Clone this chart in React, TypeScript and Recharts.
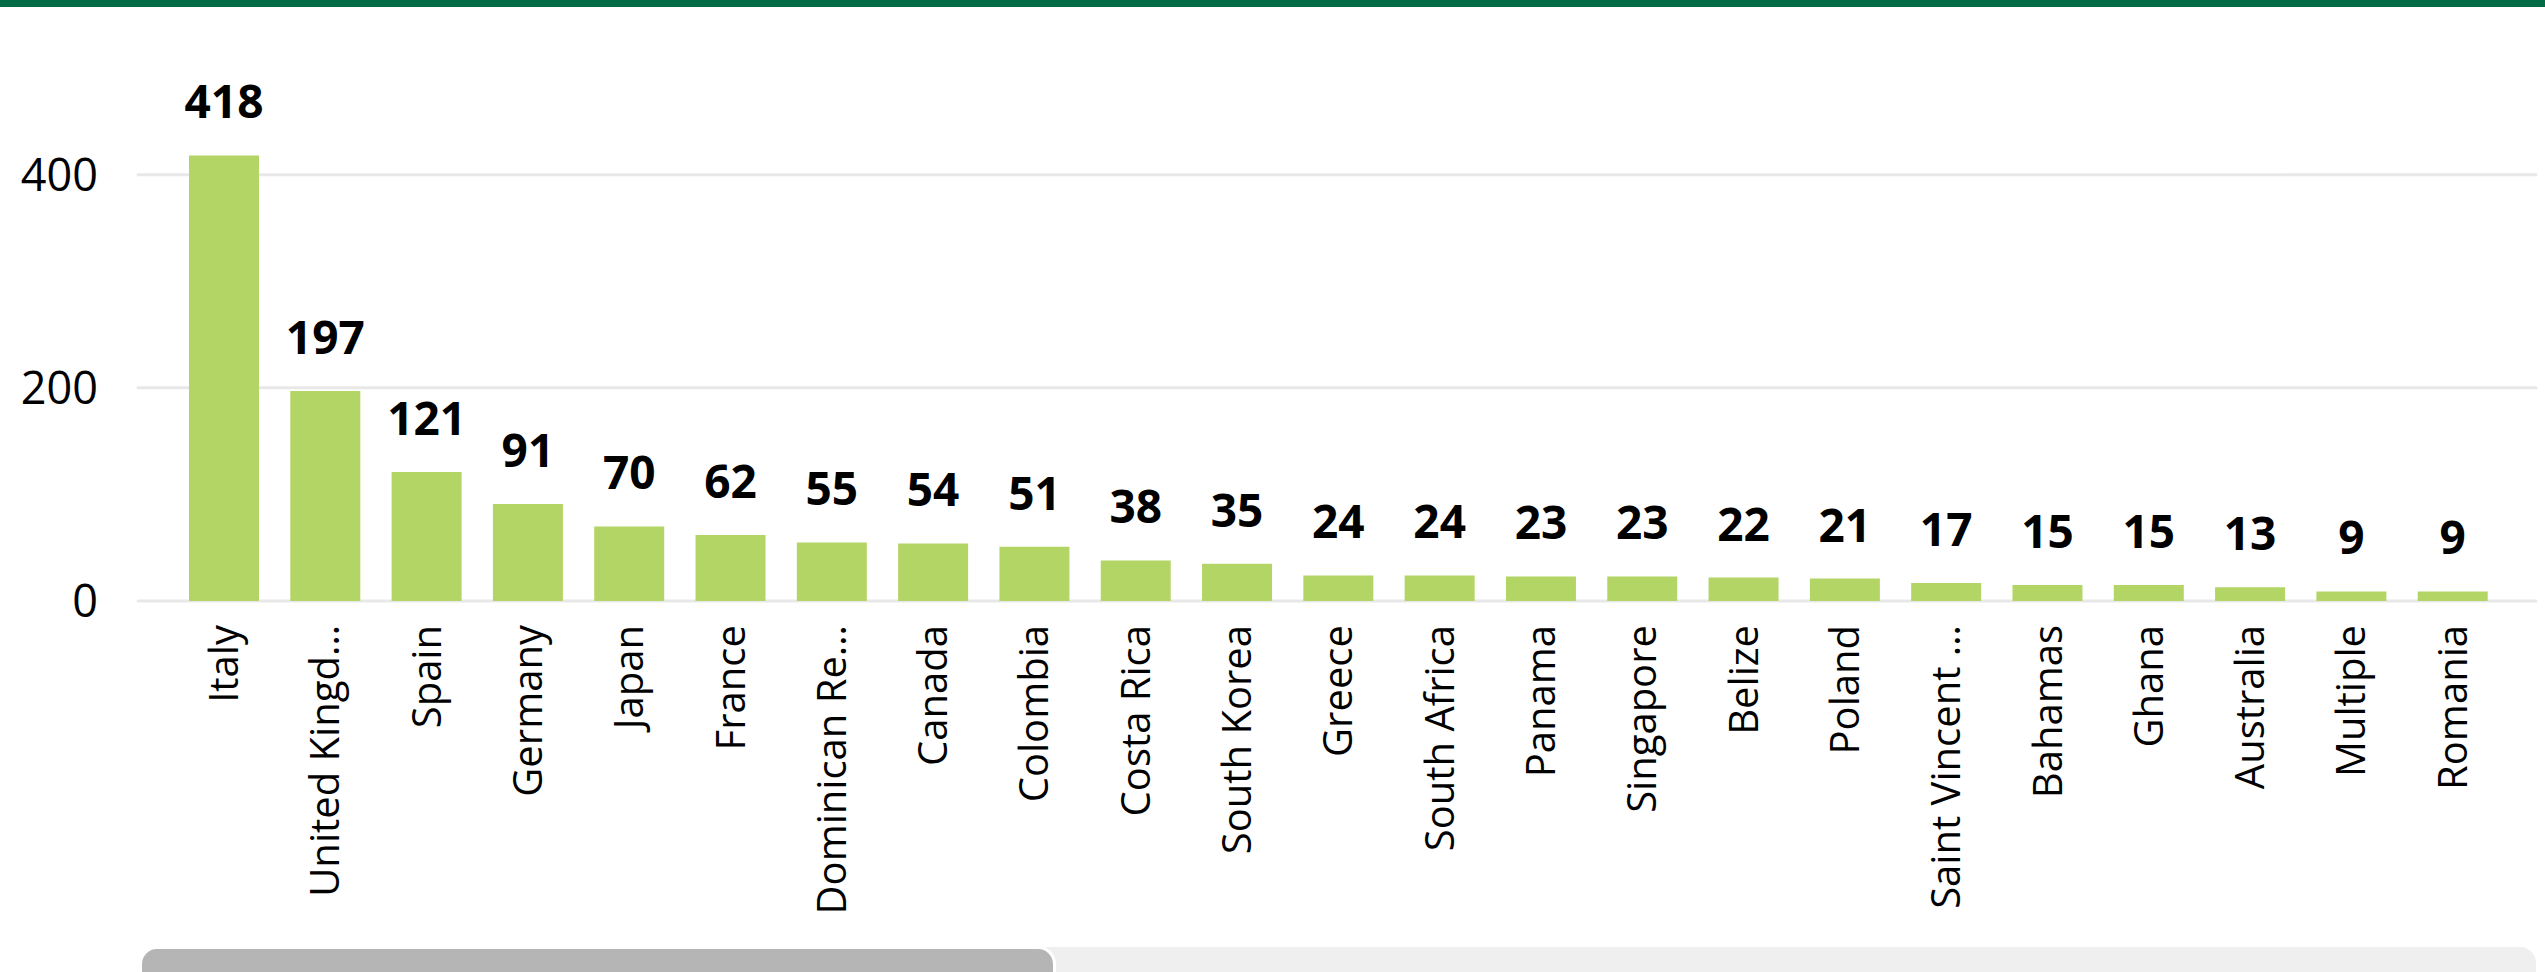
import React from 'react';
import { BarChart, Bar, XAxis, YAxis, CartesianGrid, LabelList } from 'recharts';

const countries = [
  'Italy', 'United Kingd…', 'Spain', 'Germany', 'Japan', 'France', 'Dominican Re…',
  'Canada', 'Colombia', 'Costa Rica', 'South Korea', 'Greece', 'South Africa', 'Panama',
  'Singapore', 'Belize', 'Poland', 'Saint Vincent …', 'Bahamas', 'Ghana', 'Australia',
  'Multiple', 'Romania',
];
const counts = [418, 197, 121, 91, 70, 62, 55, 54, 51, 38, 35, 24, 24, 23, 23, 22, 21, 17, 15, 15, 13, 9, 9];
const yTicks = [0, 200, 400];
const yDomain = [0, 440];

const data = countries.map((country, i) => ({ country, count: counts[i] }));

const FONT = '"Segoe UI", "Open Sans", "Noto Sans", sans-serif';

const XTick = (props: any) => {
  const { x, y, payload } = props;
  return (
    <text
      x={x}
      y={y}
      dy="0.36em"
      transform={`rotate(-90, ${x}, ${y})`}
      textAnchor="end"
      fontSize={40}
      fill="#000"
      fontFamily={FONT}
    >
      {payload.value}
    </text>
  );
};

const YTick = (props: any) => {
  const { x, y, payload } = props;
  return (
    <text x={x} y={y} dy="0.36em" textAnchor="end" fontSize={45} fill="#000" fontFamily={FONT}>
      {payload.value}
    </text>
  );
};

export default function App() {
  return (
    <div
      style={{
        position: 'fixed',
        left: 0,
        top: 0,
        width: 2545,
        height: 972,
        overflow: 'hidden',
        background: '#fff',
      }}
    >
      <div style={{ position: 'absolute', left: 0, top: 0, width: 2545, height: 7, background: '#036b45' }} />
      <div style={{ position: 'absolute', left: 0, top: 0 }}>
        <BarChart
          width={2545}
          height={940}
          data={data}
          margin={{ top: 132, right: 9, bottom: 0, left: 0 }}
          barSize={70}
        >
          <CartesianGrid
            vertical={false}
            horizontalValues={yTicks}
            stroke="#e8e8e8"
            strokeWidth={3}
            strokeLinecap="round"
          />
          <XAxis
            dataKey="country"
            interval={0}
            axisLine={false}
            tickLine={false}
            tickSize={0}
            tickMargin={24}
            height={339}
            padding={{ left: 35, right: 33 }}
            tick={<XTick />}
          />
          <YAxis
            domain={yDomain}
            ticks={yTicks}
            axisLine={false}
            tickLine={false}
            tickSize={0}
            tickMargin={40}
            width={138}
            tick={<YTick />}
          />
          <Bar dataKey="count" fill="#b2d565" isAnimationActive={false}>
            <LabelList
              dataKey="count"
              position="top"
              offset={37}
              fill="#000"
              fontSize={46}
              fontWeight={700}
              fontFamily={FONT}
            />
          </Bar>
        </BarChart>
      </div>
      <div
        style={{
          position: 'absolute',
          left: 142,
          top: 947,
          width: 2394,
          height: 40,
          borderRadius: 16,
          background: '#efefef',
        }}
      />
      <div
        style={{
          position: 'absolute',
          left: 142,
          top: 949,
          width: 911,
          height: 40,
          borderRadius: 15,
          background: '#b5b5b5',
          boxShadow: '0 0 0 3px #fff',
        }}
      />
    </div>
  );
}
